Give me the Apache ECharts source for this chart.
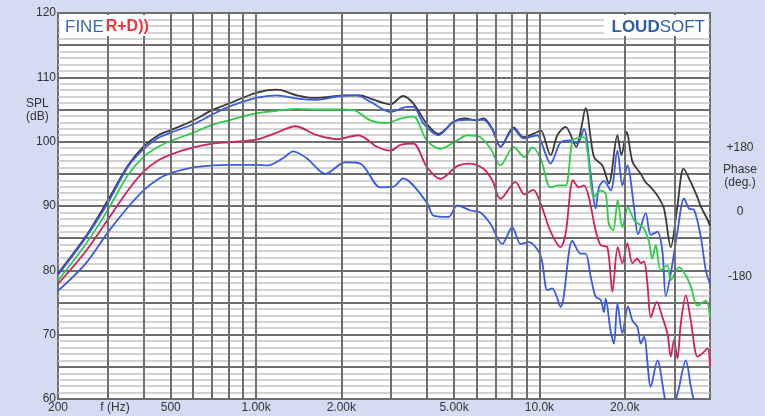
<!DOCTYPE html>
<html><head><meta charset="utf-8">
<script src="https://cdn.jsdelivr.net/npm/echarts@6/dist/echarts.min.js"></script>
<style>html,body{margin:0;padding:0;background:#d4dcf3}#c{width:765px;height:416px}</style>
</head><body><div id="c"></div><script>
// x-axis tick labels (Hz)
const xTickValues = [200, 500, 1000, 2000, 5000, 10000, 20000];
const xTickLabels = ['200', '500', '1.00k', '2.00k', '5.00k', '10.0k', '20.0k'];
// vertical grid lines (Hz)
const gridFreqs = [300, 400, 500, 600, 700, 800, 900, 1000, 2000, 3000, 4000, 5000, 6000, 7000, 8000, 9000, 10000, 20000, 30000];
// phase axis labels
const phaseTicks = [-180, 0, 180];
const phaseLabels = ['-180', '0', '+180'];

// SPL curves: [frequency Hz, SPL dB]
const curveBlack = [[200,79.5],[250,85.2],[300,90.9],[353,96.3],[400,99.2],[452,101.0],[500,101.8],[600,103.3],[700,104.9],[800,105.9],[1000,107.6],[1185,108.1],[1395,107.2],[1592,106.8],[1830,107.0],[2033,107.2],[2335,107.2],[2533,106.7],[2981,105.8],[3300,107.1],[3594,105.9],[4000,102.8],[4404,101.2],[4975,103.1],[5487,103.6],[5952,103.3],[6351,103.6],[6818,102.0],[7292,99.2],[8106,102.2],[8794,100.7],[9830,101.5],[10100,101.8],[10956,97.9],[11568,101.0],[12376,102.3],[13500,99.2],[14000,101.8],[14562,105.2],[15580,97.6],[16680,96.3],[17580,93.5],[18846,101.0],[19470,97.9],[20330,101.5],[21300,96.9],[22783,95.0],[23720,93.7],[24720,92.9],[26100,91.6],[27520,89.6],[29080,83.6],[30700,90.0],[32260,95.8],[34220,93.7],[36140,91.3],[37125,89.9],[39200,87.9],[40000,86.9]];
const curveBlueTop = [[200,79.3],[250,85.0],[300,90.5],[353,96.1],[400,98.8],[452,100.6],[500,101.4],[600,102.7],[700,104.2],[800,105.4],[1000,106.8],[1185,107.2],[1395,106.7],[1642,106.5],[1984,107.1],[2272,107.2],[2533,106.2],[2981,104.6],[3414,105.4],[3594,105.4],[3900,102.8],[4404,101.0],[4975,103.1],[5487,103.4],[6351,103.4],[6818,101.9],[7292,99.2],[8106,102.0],[8794,100.5],[9830,101.0],[10100,100.2],[10956,96.6],[11882,99.9],[12890,100.2],[13612,99.7],[14362,102.0],[15168,95.0],[15794,89.6],[16226,92.9],[16896,93.9],[17844,92.4],[18846,98.6],[19630,93.2],[20440,96.3],[21580,89.8],[22290,85.6],[23720,88.9],[24720,85.5],[26100,86.0],[27180,82.9],[27920,76.0],[29080,79.5],[30700,86.0],[32400,91.2],[33740,89.6],[35160,89.4],[37125,85.2],[38660,80.0],[40000,77.9]];
const curveGreen = [[200,78.4],[250,84.0],[300,89.4],[353,94.8],[400,97.6],[452,99.2],[500,100.1],[600,101.4],[700,102.6],[800,103.3],[1000,104.4],[1185,104.8],[1395,105.1],[1642,105.0],[1984,105.0],[2210,104.9],[2533,103.3],[2900,102.9],[3232,103.6],[3594,103.9],[4000,100.2],[4476,98.9],[5126,100.2],[5562,101.0],[6197,100.7],[6723,98.9],[7292,96.3],[8106,99.2],[8866,97.6],[9438,99.1],[10097,97.4],[10956,92.9],[11690,93.2],[12376,93.2],[13070,100.2],[13612,100.5],[14362,100.7],[14770,98.6],[15580,91.4],[16454,92.4],[17136,91.9],[17580,87.2],[18200,86.2],[18900,90.9],[19630,86.7],[20540,89.8],[21600,87.8],[22783,87.0],[23400,86.5],[24380,84.4],[25000,81.8],[25740,83.9],[26810,80.0],[28300,80.8],[29080,78.5],[31120,80.5],[32860,79.2],[34220,77.5],[36140,74.5],[38660,75.3],[40000,72.7]];
const curveRed = [[200,77.9],[250,82.9],[300,87.9],[353,92.4],[400,95.3],[452,97.1],[500,98.0],[600,99.1],[700,99.7],[800,99.9],[1000,100.3],[1153,101.2],[1376,102.4],[1642,101.0],[1931,100.4],[2296,101.0],[2674,99.2],[2981,98.6],[3232,99.5],[3594,99.7],[4000,96.1],[4476,94.2],[5126,96.2],[5636,96.6],[6351,95.8],[6818,94.0],[7292,91.1],[8238,93.7],[8866,91.8],[9516,92.5],[10097,90.4],[10956,86.0],[11882,83.6],[12376,85.7],[13150,94.0],[13790,92.9],[14362,93.2],[14940,91.4],[15794,86.2],[16454,83.9],[17374,83.6],[18094,76.7],[18900,83.6],[19630,81.1],[20440,84.2],[21300,81.1],[22180,81.8],[22783,81.1],[23400,81.4],[24060,77.9],[24720,72.7],[25960,75.1],[27180,72.7],[28300,70.2],[29080,66.6],[29860,69.2],[30700,66.3],[31548,71.7],[32860,76.1],[34220,72.2],[36140,66.6],[37640,67.1],[39200,67.9],[40000,65.0]];
const curveBlueLow = [[200,76.8],[250,81.0],[300,85.9],[353,89.8],[400,92.4],[452,94.2],[500,95.1],[600,96.0],[700,96.3],[800,96.4],[1000,96.4],[1100,96.3],[1250,97.5],[1352,98.5],[1513,97.4],[1756,95.0],[2066,96.8],[2335,96.6],[2746,92.9],[3054,93.0],[3300,94.3],[4000,90.6],[4228,88.5],[4776,88.3],[5126,90.1],[5714,89.3],[6197,89.0],[6723,87.2],[7393,84.1],[8022,86.7],[8580,84.1],[9180,84.4],[10097,82.3],[10666,76.9],[11100,77.2],[11882,74.3],[13070,84.6],[13982,82.6],[14562,82.6],[15168,79.0],[15794,75.9],[16454,75.4],[16896,73.5],[17136,75.6],[17844,70.5],[18332,68.6],[18846,74.8],[19630,70.2],[20540,74.4],[21300,72.2],[22180,71.2],[22783,68.6],[23400,69.7],[24720,61.9],[26100,66.0],[27920,59.5],[29080,58.5],[30700,60.8],[32860,66.0],[34220,62.0],[35160,59.5],[37125,55.0],[40000,54.0]];

const curves = [
  {name: 'c1', data: curveBlack, color: '#3a3a3a'},
  {name: 'c2', data: curveBlueTop, color: '#3a5ae0'},
  {name: 'c3', data: curveGreen, color: '#2fcc4c'},
  {name: 'c4', data: curveRed, color: '#d0205e'},
  {name: 'c5', data: curveBlueLow, color: '#3a5ae0'}
];

const chart = echarts.init(document.getElementById('c'), null, {renderer: 'canvas'});
const gridCol = '#6e6e6e';
const font = 'Liberation Sans, Arial, sans-serif';
const option = {
  backgroundColor: '#d4dcf3',
  animation: false,
  grid: {left: 58, right: 55, top: 13, bottom: 17, show: true, backgroundColor: '#ffffff', borderColor: gridCol, borderWidth: 2},
  xAxis: {
    type: 'log', logBase: 10, min: 200, max: 40000,
    axisLine: {show: false}, axisTick: {show: false},
    splitLine: {show: false},
    axisLabel: {
      customValues: xTickValues,
      formatter: v => { const i = xTickValues.findIndex(t => Math.abs(t - v) < 1e-6 * t); return i >= 0 ? xTickLabels[i] : ''; },
      color: '#333', fontSize: 12, fontFamily: font, margin: 3
    }
  },
  yAxis: [{
    type: 'value', min: 60, max: 120, interval: 5,
    axisLine: {show: false}, axisTick: {show: false},
    axisLabel: {formatter: v => (v % 10 === 0 ? String(v) : ''), color: '#333', fontSize: 12, fontFamily: font, margin: 2},
    splitLine: {show: true, lineStyle: {color: gridCol, width: 2}},
    minorTick: {show: false, splitNumber: 5},
    minorSplitLine: {show: true, lineStyle: {color: '#c4c4c4', width: 1.5}}
  }, {
    type: 'value', min: -540, max: 540, interval: 180, position: 'right',
    axisLine: {show: false}, axisTick: {show: false}, splitLine: {show: false},
    axisLabel: {
      formatter: v => { const i = phaseTicks.indexOf(v); return i >= 0 ? phaseLabels[i] : ''; },
      color: '#333', fontSize: 12, fontFamily: font, margin: 30, align: 'center', verticalAlign: 'top'
    }
  }],
  graphic: [
    {type: 'rect', shape: {x: 60, y: 15, width: 88, height: 21}, style: {fill: '#ffffff'}, z: 10},
    {type: 'rect', shape: {x: 604, y: 15, width: 104, height: 21}, style: {fill: '#ffffff'}, z: 10},
    {type: 'text', x: 65, y: 27, z: 11, style: {
      text: '{a|FINE}{b|R+D))}', verticalAlign: 'middle',
      rich: {a: {fontSize: 17, fontFamily: font, fill: '#3a6ab4'}, b: {fontSize: 16, fontFamily: font, fontWeight: 'bold', fill: '#ee3338', padding: [0, 0, 0, 2]}}
    }},
    {type: 'text', x: 705, y: 27, z: 11, style: {
      text: '{a|LOUD}{b|SOFT}', align: 'right', verticalAlign: 'middle',
      rich: {a: {fontSize: 17, fontFamily: font, fontWeight: 'bold', fill: '#2f5ea8'}, b: {fontSize: 17, fontFamily: font, fill: '#2f5ea8'}}
    }},
    {type: 'text', x: 26, y: 97, style: {text: 'SPL\n(dB)', fontSize: 12, fontFamily: font, fill: '#333', lineHeight: 13}},
    {type: 'text', x: 740, y: 163, style: {text: 'Phase\n(deg.)', fontSize: 12, fontFamily: font, fill: '#333', align: 'center', lineHeight: 13}},
    {type: 'text', x: 115, y: 408, style: {text: 'f (Hz)', fontSize: 12, fontFamily: font, fill: '#333', align: 'center', verticalAlign: 'middle'}}
  ],
  series: [{
    type: 'line', data: [], z: 1, silent: true,
    markLine: {silent: true, symbol: 'none', animation: false, label: {show: false},
      lineStyle: {color: gridCol, width: 2, type: 'solid'},
      data: gridFreqs.map(f => ({xAxis: f}))}
  }].concat(curves.map(c => ({
    type: 'line', name: c.name, data: c.data, z: 3, smooth: 0.3, showSymbol: false, clip: true,
    lineStyle: {color: c.color, width: 1.8}, itemStyle: {color: c.color}
  })))
};
chart.setOption(option);
</script></body></html>
